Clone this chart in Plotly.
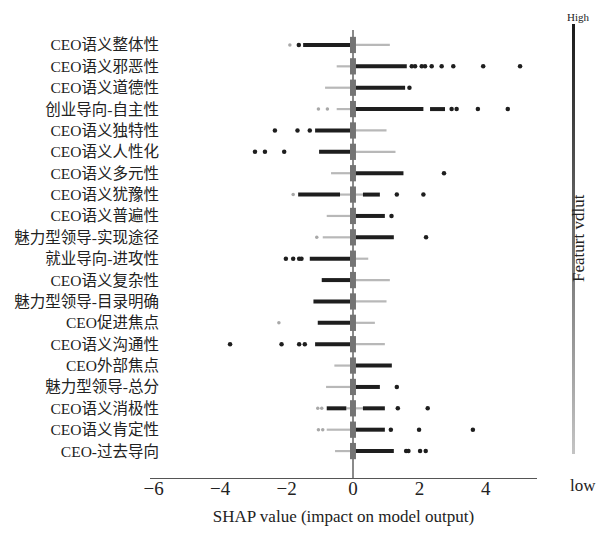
import plotly.graph_objects as go

features = ["CEO语义整体性", "CEO语义邪恶性", "CEO语义道德性", "创业导向-自主性", "CEO语义独特性",
            "CEO语义人性化", "CEO语义多元性", "CEO语义犹豫性", "CEO语义普遍性", "魅力型领导-实现途径",
            "就业导向-进攻性", "CEO语义复杂性", "魅力型领导-目录明确", "CEO促进焦点", "CEO语义沟通性",
            "CEO外部焦点", "魅力型领导-总分", "CEO语义消极性", "CEO语义肯定性", "CEO-过去导向"]

# dense bands of high feature values (dark) per feature
dark_segs = [
    [(-1.50, -0.05)], [(0.05, 1.62)], [(0.05, 1.57)], [(0.05, 2.12), (2.32, 2.77)], [(-1.14, -0.05)],
    [(-1.02, -0.05)], [(0.05, 1.52)], [(-1.65, -0.39), (0.30, 0.81)], [(0.05, 0.96)], [(0.05, 1.23)],
    [(-1.30, -0.05)], [(-0.94, -0.05)], [(-1.19, -0.05)], [(-1.06, -0.05)], [(-1.14, -0.05)],
    [(0.05, 1.17)], [(0.05, 0.81)], [(-0.79, -0.20), (0.30, 0.96)], [(0.05, 0.96)], [(0.05, 1.23)],
]
# dense bands of low feature values (light)
light_segs = [
    [(0, 1.11)], [(-0.49, 0)], [(-0.84, 0)], [(-0.49, 0)], [(0, 1.01)],
    [(0, 1.28)], [(-0.66, 0)], [(-0.39, 0.30)], [(-0.79, 0)], [(-0.91, 0)],
    [(0, 0.46)], [(0, 1.11)], [(0, 1.01)], [(0, 0.66)], [(0, 0.96)],
    [(-0.56, 0)], [(-0.81, 0)], [(-0.20, 0.30)], [(-0.79, 0)], [(-0.54, 0)],
]
# isolated points
dark_pts = [
    [-1.63], [1.77, 1.87, 2.07, 2.17, 2.37, 2.67, 3.02, 3.92, 5.03], [1.70], [2.97, 3.12, 3.76, 4.66],
    [-2.35, -1.67, -1.30], [-2.95, -2.65, -2.07], [2.74], [1.32, 2.12], [1.16], [2.20],
    [-2.02, -1.80, -1.62, -1.55], [], [], [], [-3.70, -2.15, -1.62, -1.45],
    [], [1.32], [1.35, 2.25], [1.14, 1.99, 3.61], [1.60, 1.67, 2.02, 2.19],
]
light_pts = [
    [-1.90], [], [], [-1.04, -0.77], [], [], [], [-1.80], [], [-1.09],
    [], [], [], [-2.23], [], [], [], [-1.06, -0.94], [-1.04, -0.91], [],
]

xticks = [-6, -4, -2, 0, 2, 4]
n = len(features)
ypos = [n - 1 - i for i in range(n)]

def seg_xy(segs_list):
    xs, ys = [], []
    for i, segs in enumerate(segs_list):
        for a, b in segs:
            xs += [a, b, None]
            ys += [ypos[i], ypos[i], None]
    return xs, ys

def pts_xy(pts_list):
    xs, ys = [], []
    for i, pts in enumerate(pts_list):
        xs += pts
        ys += [ypos[i]] * len(pts)
    return xs, ys

fig = go.Figure()
lx, ly = seg_xy(light_segs)
fig.add_trace(go.Scatter(x=lx, y=ly, mode="lines", line=dict(color="#b8b8b8", width=2.2), hoverinfo="skip"))
dx, dy = seg_xy(dark_segs)
fig.add_trace(go.Scatter(x=dx, y=dy, mode="lines", line=dict(color="#1e1e1e", width=4), hoverinfo="skip"))
# central clusters
cx, cy = [], []
for yv in ypos:
    cx += [0, 0, None]
    cy += [yv - 0.38, yv + 0.38, None]
fig.add_trace(go.Scatter(x=cx, y=cy, mode="lines", line=dict(color="#747474", width=6), hoverinfo="skip"))
px_, py_ = pts_xy(light_pts)
fig.add_trace(go.Scatter(x=px_, y=py_, mode="markers", marker=dict(color="#a8a8a8", size=3.5), hoverinfo="skip"))
px_, py_ = pts_xy(dark_pts)
fig.add_trace(go.Scatter(x=px_, y=py_, mode="markers", marker=dict(color="#1e1e1e", size=4.5), hoverinfo="skip"))
# colorbar carrier
fig.add_trace(go.Scatter(x=[None, None], y=[None, None], mode="markers",
                         marker=dict(color=[0, 1], cmin=0, cmax=1,
                                     colorscale=[[0, "#c4c4c4"], [1, "#1a1a1a"]], showscale=True,
                                     colorbar=dict(thickness=3, len=450, lenmode="pixels",
                                                   x=562 / 599, xanchor="left", xref="container",
                                                   y=1 - 17 / 534, yanchor="top", yref="container",
                                                   outlinewidth=0, showticklabels=False, ticks="")),
                         hoverinfo="skip"))

fig.update_layout(
    width=599, height=534, showlegend=False,
    margin=dict(l=150, r=62, t=30, b=56, autoexpand=False),
    plot_bgcolor="white", paper_bgcolor="white",
    font=dict(family="Liberation Serif, Noto Sans CJK SC", color="#222"),
    xaxis=dict(range=[-6.11, 5.54], tickvals=xticks, ticktext=["−6", "−4", "−2", "0", "2", "4"],
               showgrid=False, zeroline=True, zerolinecolor="#8a8a8a", zerolinewidth=1.5,
               showline=True, linecolor="#555", linewidth=1, ticks="", tickfont=dict(size=19),
               automargin=False, ticklabelstandoff=-7,
               title=dict(text="SHAP value (impact on model output)", font=dict(size=17), standoff=12)),
    yaxis=dict(range=[-1.26, 19.70], tickvals=ypos, ticktext=features, showgrid=False, zeroline=False,
               showline=False, ticks="", tickfont=dict(size=15.5), ticklabelstandoff=-10, automargin=False),
)
fig.add_annotation(text="High", xref="paper", yref="paper", x=(565 - 150) / 387, y=1 + 13 / 448,
                   xanchor="left", yanchor="middle", showarrow=False, font=dict(size=11))
fig.add_annotation(text="low", xref="paper", yref="paper", x=(568 - 150) / 387, y=-(485 - 478) / 448,
                   xanchor="left", yanchor="middle", showarrow=False, font=dict(size=17))
fig.add_annotation(text="Featurt vdlut", xref="paper", yref="paper", x=(578 - 150) / 387,
                   y=(478 - 238) / 448, xanchor="center", yanchor="middle", textangle=-90,
                   showarrow=False, font=dict(size=17))

fig.write_html("out.html", config={"displayModeBar": False},
               post_script="document.body.style.margin='0';")
